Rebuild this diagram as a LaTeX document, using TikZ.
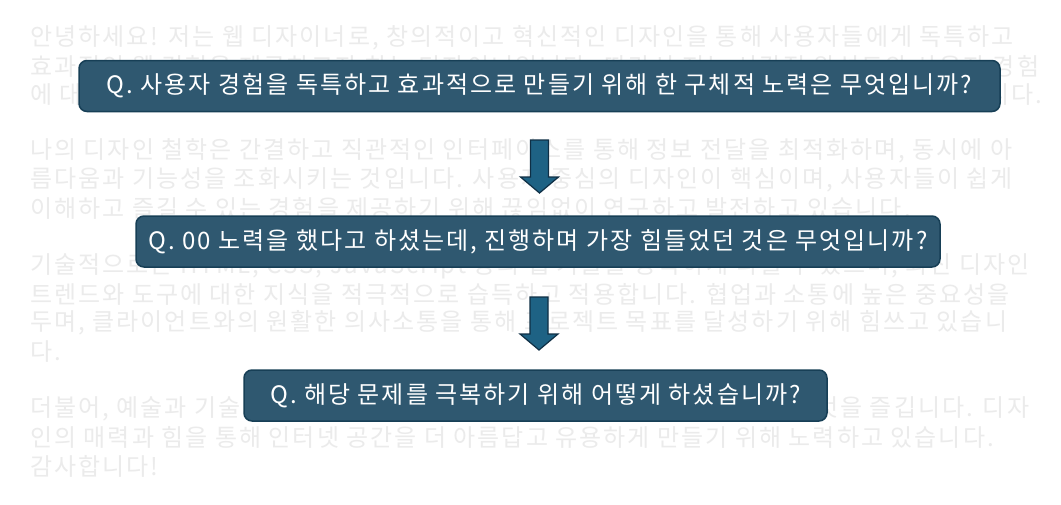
\documentclass[tikz,border=0pt]{standalone}
\usepackage{fontspec}
\setmainfont[LetterSpace=8.5]{Noto Sans CJK KR}
\definecolor{bgtext}{HTML}{EBEBEB}
\definecolor{boxfill}{HTML}{2F5870}
\definecolor{boxline}{HTML}{173F56}
\definecolor{arrfill}{HTML}{1E6284}
\definecolor{arrline}{HTML}{0F2F45}
\begin{document}
\begin{tikzpicture}[x=1pt,y=-1pt,
  bgline/.style={anchor=west, inner sep=0pt, text=bgtext, font=\fontsize{24}{28}\selectfont},
  qbox/.style={draw=boxline, line width=1.5pt, fill=boxfill, rounded corners=8pt, text=white,
    font=\fontsize{24}{28}\selectfont, minimum height=51pt, inner sep=0pt},
  downarrow/.style={draw=arrline, fill=arrfill, line width=1.2pt, line join=miter}]
\path[use as bounding box, fill=white] (0,0) rectangle (1061,504);
% background paragraphs
\node[bgline] (l1) at (30,37.5) {안녕하세요! 저는 웹 디자이너로, 창의적이고 혁신적인 디자인을 통해 사용자들에게 독특하고};
\node[bgline] (l2) at (30,66) {효과적인 웹 경험을 제공하고자 하는 디자이너입니다. 따라서 저는 시각적 완성도와 사용자 경험};
\node[bgline] (l3) at (30,94.5) {에 대한 깊은 고민을 바탕으로 아름답고 실용적인 웹사이트를 만드는 데 최선을 다하고 있습니다.};
\node[bgline] (l4) at (30,151) {나의 디자인 철학은 간결하고 직관적인 인터페이스를 통해 정보 전달을 최적화하며, 동시에 아};
\node[bgline] (l5) at (30,180) {름다움과 기능성을 조화시키는 것입니다. 사용자 중심의 디자인이 핵심이며, 사용자들이 쉽게};
\node[bgline] (l6) at (30,208.5) {이해하고 즐길 수 있는 경험을 제공하기 위해 끊임없이 연구하고 발전하고 있습니다.};
\node[bgline] (l7) at (30,266) {기술적으로는 HTML, CSS, JavaScript 등의 웹 기술을 능숙하게 다룰 수 있으며, 최신 디자인};
\node[bgline] (l8) at (30,294.5) {트렌드와 도구에 대한 지식을 적극적으로 습득하고 적용합니다. 협업과 소통에 높은 중요성을};
\node[bgline] (l9) at (30,323) {두며, 클라이언트와의 원활한 의사소통을 통해 프로젝트 목표를 달성하기 위해 힘쓰고 있습니};
\node[bgline] (l10) at (30,351.5) {다.};
\node[bgline] (l11) at (30,409) {더불어, 예술과 기술의 조화를 통해 새로운 가능성을 탐구하고 실험해 보는 것을 즐깁니다. 디자};
\node[bgline] (l12) at (30,437.5) {인의 매력과 힘을 통해 인터넷 공간을 더 아름답고 유용하게 만들기 위해 노력하고 있습니다.};
\node[bgline] (l13) at (30,466) {감사합니다!};
% question boxes
\node[qbox, minimum width=921pt] (q1) at (539.5,86) {Q. 사용자 경험을 독특하고 효과적으로 만들기 위해 한 구체적 노력은 무엇입니까?};
\node[qbox, minimum width=804pt] (q2) at (538,241.5) {Q. 00 노력을 했다고 하셨는데, 진행하며 가장 힘들었던 것은 무엇입니까?};
\node[qbox, minimum width=583pt] (q3) at (535.5,395.5) {Q. 해당 문제를 극복하기 위해 어떻게 하셨습니까?};
% block arrows (top centre points)
\coordinate (a1) at (539.5,140);
\coordinate (a2) at (539,297);
\foreach \a in {a1,a2}
  \draw[downarrow] (\a) ++(-9,0) -- ++(18,0) -- ++(0,37) -- ++(10,0) -- ++(-19,16)
     -- ++(-19,-16) -- ++(10,0) -- cycle;
\end{tikzpicture}
\end{document}
